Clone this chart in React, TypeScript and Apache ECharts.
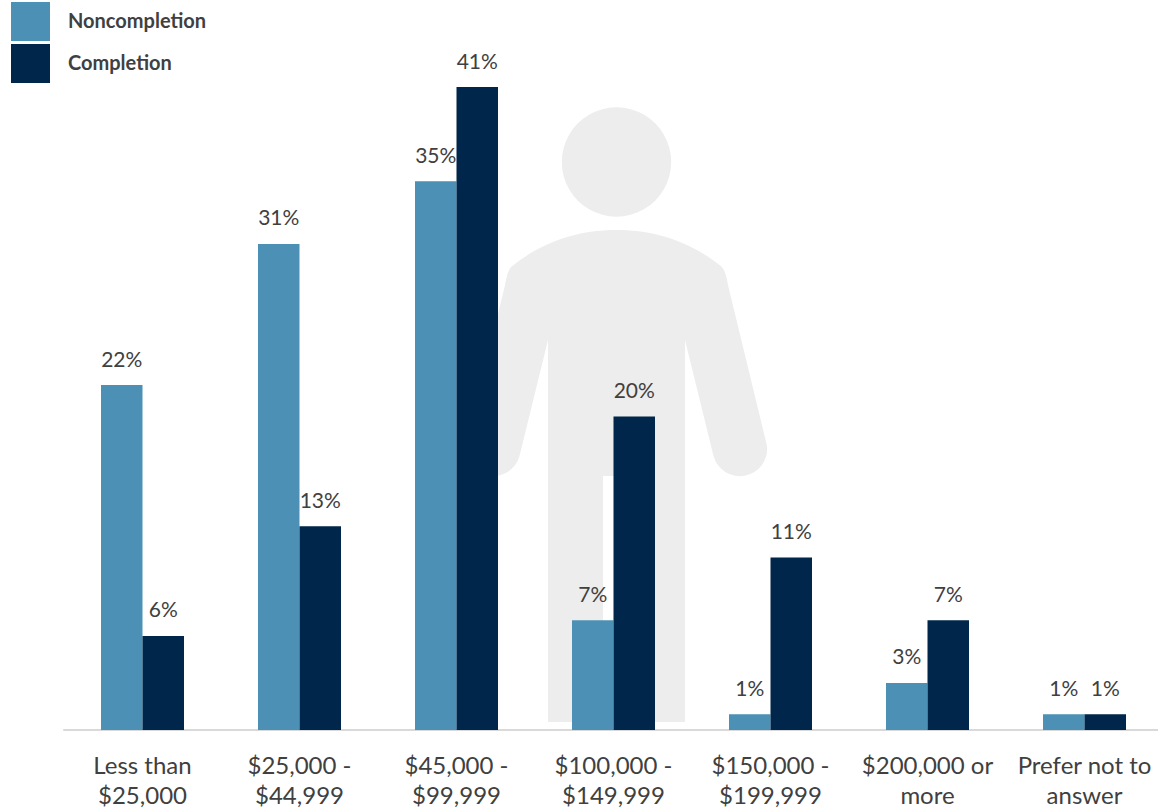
import React, { useEffect, useRef } from "react";
import * as echarts from "echarts";

const categories = [
  "Less than\n$25,000",
  "$25,000 -\n$44,999",
  "$45,000 -\n$99,999",
  "$100,000 -\n$149,999",
  "$150,000 -\n$199,999",
  "$200,000 or\nmore",
  "Prefer not to\nanswer",
];
const noncompletion = [22, 31, 35, 7, 1, 3, 1];
const completion = [6, 13, 41, 20, 11, 7, 1];

const personBody =
  "M616.5 230 C660 230 695 245 722 267 Q726 272 728 285 L767 446 A27.3 27.3 0 0 1 713.5 456 L685 340 L685 722 L630 722 L630 476 L603 476 L603 722 L548 722 L548 340 L519.5 456 A27.3 27.3 0 0 1 466 446 L505 285 Q507 272 511 267 C538 245 573 230 616.5 230 Z";

echarts.graphic.registerShape("personBody", echarts.graphic.extendPath(personBody, {}));

const FONT = "Lato, 'Open Sans', sans-serif";
const TEXT = "#404040";

export default function App() {
  const ref = useRef<HTMLDivElement>(null);
  useEffect(() => {
    document.body.style.margin = "0";
    const chart = echarts.init(ref.current!, undefined, { renderer: "svg" });
    const label = {
      show: true,
      position: "top" as const,
      distance: 16.5,
      formatter: "{c}%",
      color: TEXT,
      fontFamily: FONT,
      fontSize: 21,
    };
    chart.setOption({
      animation: false,
      backgroundColor: "#ffffff",
      grid: {
        left: 64,
        top: 24.4,
        width: 1099,
        height: 705.6,
        containLabel: false,
        outerBoundsMode: "none",
      },
      legend: {
        orient: "vertical",
        left: 11,
        top: 2,
        padding: 0,
        itemWidth: 39,
        itemHeight: 39,
        itemGap: 3,
        icon: "rect",
        formatter: "{t|{name}}",
        textStyle: {
          color: TEXT,
          fontFamily: FONT,
          fontWeight: "bold",
          fontSize: 20,
          rich: {
            t: {
              color: TEXT,
              fontFamily: FONT,
              fontWeight: "bold",
              fontSize: 20,
              padding: [0, 0, 4, 13],
            },
          },
        },
        selectedMode: false,
      },
      graphic: [
        { type: "circle", z: 0, shape: { cx: 616.5, cy: 162, r: 54.7 }, style: { fill: "#EDEDED" } },
        { type: "personBody", z: 0, x: 0, y: 0, style: { fill: "#EDEDED" } },
      ],
      xAxis: {
        type: "category",
        data: categories,
        axisTick: { show: false },
        axisLine: { lineStyle: { color: "#D9D9D9", width: 2 } },
        axisLabel: {
          color: TEXT,
          fontFamily: FONT,
          fontSize: 24,
          lineHeight: 30,
          margin: 19,
          interval: 0,
        },
      },
      yAxis: { type: "value", min: 0, max: 45, show: false, splitLine: { show: false } },
      series: [
        {
          name: "Noncompletion",
          type: "bar",
          data: noncompletion,
          barWidth: 41.5,
          barGap: 0,
          itemStyle: { color: "#4C91B5" },
          label,
        },
        {
          name: "Completion",
          type: "bar",
          data: completion,
          barWidth: 41.5,
          itemStyle: { color: "#00274B" },
          label,
        },
      ],
    });
    return () => chart.dispose();
  }, []);
  return <div ref={ref} style={{ width: 1158, height: 808 }} />;
}
